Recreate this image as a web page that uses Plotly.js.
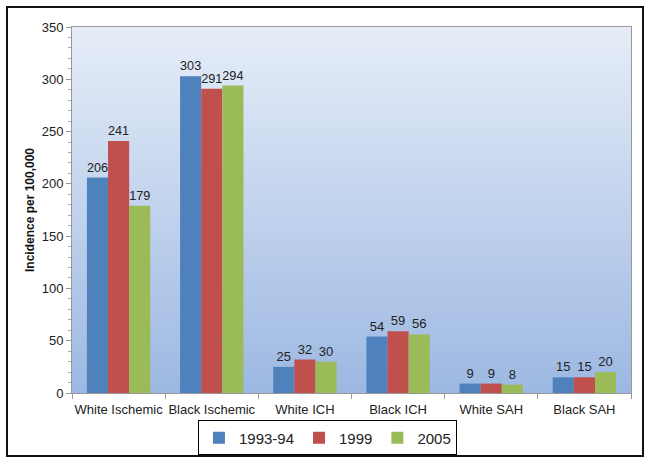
<!DOCTYPE html>
<html>
<head>
<meta charset="utf-8">
<script src="https://cdn.plot.ly/plotly-3.0.1.min.js"></script>
<style>
  body { margin: 0; background: #fff; }
  #chart { width: 651px; height: 463px; }
</style>
</head>
<body>
<div id="chart"></div>
<script>
// stroke incidence by category and period
var categories = ['White Ischemic', 'Black Ischemic', 'White ICH', 'Black ICH', 'White SAH', 'Black SAH'];
var series_names = ['1993-94', '1999', '2005'];
var vals_9394 = [206, 303, 25, 54, 9, 15];
var vals_1999 = [241, 291, 32, 59, 9, 15];
var vals_2005 = [179, 294, 30, 56, 8, 20];
var colors = ['#4F81BD', '#C0504D', '#9BBB59'];

var all_vals = [vals_9394, vals_1999, vals_2005];
var data = [];
for (var i = 0; i < all_vals.length; i++) {
  data.push({
    type: 'bar',
    name: series_names[i],
    x: categories,
    y: all_vals[i],
    text: all_vals[i],
    textposition: 'outside',
    cliponaxis: false,
    textfont: {family: 'Liberation Sans, Arial', size: 13, color: '#222'},
    marker: {color: colors[i], line: {width: 0}}
  });
}

// plot area gradient as background image
var svg = '<svg xmlns="http://www.w3.org/2000/svg" width="100" height="100" preserveAspectRatio="none">' +
  '<defs><linearGradient id="g" x1="0" y1="0" x2="0" y2="1">' +
  '<stop offset="0" stop-color="#E6EDF8"/><stop offset="1" stop-color="#9CB8E2"/>' +
  '</linearGradient></defs><rect width="100" height="100" fill="url(#g)"/></svg>';
var bg = 'data:image/svg+xml;charset=utf-8,' + encodeURIComponent(svg);

var layout = {
  width: 651,
  height: 463,
  margin: {l: 72, r: 20, t: 27, b: 70, autoexpand: false},
  paper_bgcolor: '#fff',
  plot_bgcolor: 'rgba(0,0,0,0)',
  font: {family: 'Liberation Sans, Arial', size: 13, color: '#222'},
  barmode: 'group',
  bargap: 0.32,
  bargroupgap: 0,
  showlegend: true,
  legend: {
    orientation: 'h', xref: 'container', yref: 'container',
    x: 0.503, xanchor: 'center', y: 0.092, yanchor: 'top',
    bordercolor: '#000', borderwidth: 1, bgcolor: '#fff',
    font: {size: 15, color: '#222'}, itemwidth: 30, traceorder: 'normal'
  },
  xaxis: {
    type: 'category', tickangle: 0, automargin: false,
    showline: true, linecolor: '#999', linewidth: 1, mirror: true,
    ticks: 'outside', tickson: 'boundaries', ticklen: 5, tickcolor: '#999',
    ticklabelstandoff: 4,
    tickfont: {size: 13, color: '#222'}
  },
  yaxis: {
    range: [0, 350], dtick: 50, automargin: false,
    showgrid: false, zeroline: false,
    showline: true, linecolor: '#999', linewidth: 1, mirror: true,
    ticks: 'outside', ticklen: 5, tickcolor: '#999',
    minor: {dtick: 10, ticks: 'outside', ticklen: 3, tickcolor: '#aaa'},
    tickfont: {size: 13, color: '#222'},
    title: {text: 'Incidence per 100,000', font: {size: 12, color: '#111', weight: 'bold'}, standoff: 4}
  },
  images: [{
    source: bg, xref: 'paper', yref: 'paper', x: 0, y: 1, sizex: 1, sizey: 1,
    xanchor: 'left', yanchor: 'top', sizing: 'stretch', layer: 'below'
  }],
  shapes: [{
    type: 'rect', xref: 'paper', yref: 'paper',
    x0: -0.1163, x1: 1.0215, y0: -0.1721, y1: 1.0546,
    line: {color: '#111', width: 2}
  }]
};

Plotly.newPlot('chart', data, layout, {displayModeBar: false, showLink: false});
</script>
</body>
</html>
